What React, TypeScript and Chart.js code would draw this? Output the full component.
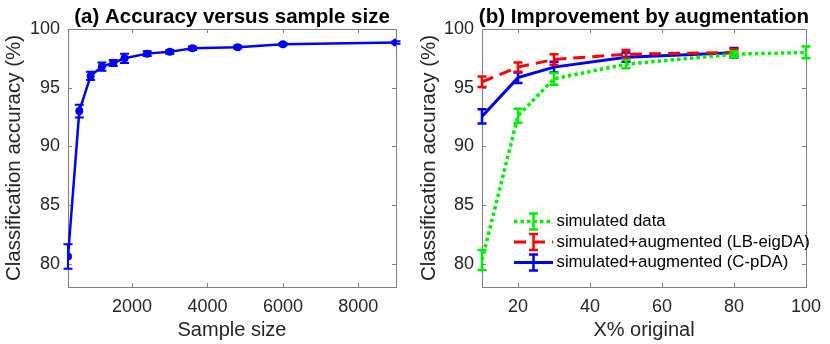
import { useEffect, useRef } from 'react';
import { Chart, registerables } from 'chart.js';

Chart.register(...registerables);

// ---------- Panel (a) data ----------
const sampleSizes = [300, 600, 900, 1200, 1500, 1800, 2400, 3000, 3600, 4800, 6000, 9000];
const accuracyA = [80.6, 93.0, 96.0, 96.8, 97.1, 97.5, 97.9, 98.05, 98.35, 98.45, 98.7, 98.85];
const errorA = [1.05, 0.55, 0.35, 0.35, 0.25, 0.4, 0.2, 0.15, 0.15, 0.12, 0.1, 0.1];
const xTicksA = [2000, 4000, 6000, 8000];

// ---------- Panel (b) data ----------
const pctSimulated = [10, 20, 30, 50, 80, 100];
const accSimulated = [80.3, 92.6, 95.75, 97.0, 97.85, 98.0];
const errSimulated = [0.85, 0.6, 0.5, 0.35, 0.25, 0.5];
const pctAugmented = [10, 20, 30, 50, 80];
const accLB = [95.5, 96.75, 97.4, 97.85, 98.0];
const errLB = [0.45, 0.4, 0.45, 0.35, 0.3];
const accCP = [92.55, 95.85, 96.75, 97.6, 97.97];
const errCP = [0.6, 0.45, 0.45, 0.4, 0.4];
const xTicksB = [20, 40, 60, 80, 100];

const yTicks = [80, 85, 90, 95, 100];

const FONT = '"Liberation Sans", Arial, Helvetica, sans-serif';
const AXIS_GRAY = '#7f7f7f';
const TEXT_GRAY = '#262626';

const errorBarPlugin = {
  id: 'errorBars',
  afterDatasetDraw(chart: any, args: any) {
    const ds = chart.data.datasets[args.index];
    const errs: number[] | undefined = ds.errors;
    if (!errs) return;
    const xs = chart.scales.x;
    const ys = chart.scales.y;
    const ctx = chart.ctx;
    ctx.save();
    ctx.strokeStyle = ds.borderColor;
    ctx.lineWidth = ds.errorWidth || 2;
    ctx.setLineDash([]);
    const cap = ds.capHalf || 4.5;
    ds.data.forEach((p: any, i: number) => {
      const x = xs.getPixelForValue(p.x);
      const yt = ys.getPixelForValue(p.y + errs[i]);
      const yb = ys.getPixelForValue(p.y - errs[i]);
      ctx.beginPath();
      ctx.moveTo(x, yt);
      ctx.lineTo(x, yb);
      ctx.moveTo(x - cap, yt);
      ctx.lineTo(x + cap, yt);
      ctx.moveTo(x - cap, yb);
      ctx.lineTo(x + cap, yb);
      ctx.stroke();
    });
    ctx.restore();
  },
};

const boxPlugin = {
  id: 'matlabBox',
  beforeDatasetsDraw(chart: any) {
    const { ctx, chartArea: a } = chart;
    const o = chart.options.plugins.matlabBox || {};
    ctx.save();
    ctx.strokeStyle = AXIS_GRAY;
    ctx.lineWidth = 1;
    ctx.strokeRect(Math.round(a.left) + 0.5, Math.round(a.top) + 0.5, Math.round(a.right - a.left), Math.round(a.bottom - a.top));
    const tl = 4;
    ctx.beginPath();
    (o.xTicks || []).forEach((v: number) => {
      const x = Math.round(chart.scales.x.getPixelForValue(v)) + 0.5;
      ctx.moveTo(x, a.bottom);
      ctx.lineTo(x, a.bottom - tl);
      ctx.moveTo(x, a.top);
      ctx.lineTo(x, a.top + tl);
    });
    (o.yTicks || []).forEach((v: number) => {
      const y = Math.round(chart.scales.y.getPixelForValue(v)) + 0.5;
      ctx.moveTo(a.left, y);
      ctx.lineTo(a.left + tl, y);
      ctx.moveTo(a.right, y);
      ctx.lineTo(a.right - tl, y);
    });
    ctx.stroke();
    ctx.restore();
  },
  afterDraw(chart: any) {
    const { ctx, chartArea: a } = chart;
    const o = chart.options.plugins.matlabBox || {};
    if (o.title) {
      ctx.save();
      ctx.fillStyle = '#000';
      ctx.font = 'bold 20.5px ' + FONT;
      ctx.textAlign = 'center';
      ctx.textBaseline = 'alphabetic';
      ctx.fillText(o.title, (a.left + a.right) / 2, 23);
      ctx.restore();
    }
  },
};

const legendPlugin = {
  id: 'matlabLegend',
  afterDraw(chart: any) {
    const o = chart.options.plugins.matlabLegend;
    if (!o || !o.show) return;
    const ctx = chart.ctx;
    const x0 = 99;
    const x1 = 138;
    const xm = (x0 + x1) / 2;
    const textX = 141.5;
    const rows = [221.5, 242, 262.5];
    ctx.save();
    chart.data.datasets.forEach((ds: any, i: number) => {
      const y = rows[i];
      ctx.strokeStyle = ds.borderColor;
      ctx.lineWidth = ds.borderWidth;
      ctx.setLineDash(ds.borderDash || []);
      ctx.lineCap = 'butt';
      ctx.beginPath();
      ctx.moveTo(x0, y);
      ctx.lineTo(x1, y);
      ctx.stroke();
      ctx.setLineDash([]);
      ctx.lineWidth = ds.errorWidth || 2;
      ctx.beginPath();
      ctx.moveTo(xm, y - 8);
      ctx.lineTo(xm, y + 8);
      ctx.moveTo(xm - 4.5, y - 8);
      ctx.lineTo(xm + 4.5, y - 8);
      ctx.moveTo(xm - 4.5, y + 8);
      ctx.lineTo(xm + 4.5, y + 8);
      ctx.stroke();
      ctx.fillStyle = '#000';
      ctx.font = '16.8px ' + FONT;
      ctx.textAlign = 'left';
      ctx.textBaseline = 'middle';
      ctx.fillText(ds.label, textX, y);
    });
    ctx.restore();
  },
};

function scales(xMin: number, xMax: number, xTicks: number[], xTitle: string, yWidth: number) {
  return {
    x: {
      type: 'linear',
      min: xMin,
      max: xMax,
      afterBuildTicks: (s: any) => {
        s.ticks = xTicks.map((v) => ({ value: v }));
      },
      afterFit: (s: any) => {
        s.height = 57;
      },
      ticks: {
        font: { family: FONT, size: 18 },
        color: TEXT_GRAY,
        padding: 9,
        maxRotation: 0,
        autoSkip: false,
        callback: (v: any) => String(v),
      },
      grid: { display: false, drawTicks: false },
      border: { display: false },
      title: { display: true, text: xTitle, color: TEXT_GRAY, font: { family: FONT, size: 20 }, padding: { top: 0, bottom: 2 } },
    },
    y: {
      type: 'linear',
      min: 78,
      max: 100,
      afterBuildTicks: (s: any) => {
        s.ticks = yTicks.map((v) => ({ value: v }));
      },
      afterFit: (s: any) => {
        s.width = yWidth;
      },
      ticks: { font: { family: FONT, size: 18 }, color: TEXT_GRAY, padding: 8, callback: (v: any) => String(v) },
      grid: { display: false, drawTicks: false },
      border: { display: false },
      title: { display: true, text: 'Classification accuracy (%)', color: TEXT_GRAY, font: { family: FONT, size: 20.5 }, padding: { top: 2, bottom: 0 } },
    },
  };
}

function ChartA() {
  const ref = useRef<HTMLCanvasElement>(null);
  useEffect(() => {
    const chart = new Chart(ref.current as HTMLCanvasElement, {
      type: 'line',
      data: {
        datasets: [
          {
            label: 'accuracy',
            data: sampleSizes.map((x, i) => ({ x, y: accuracyA[i] })),
            borderColor: '#0000ff',
            backgroundColor: '#0000ff',
            borderWidth: 2.5,
            pointRadius: 4,
            pointBorderWidth: 0,
            tension: 0,
            errors: errorA,
            errorWidth: 2,
            capHalf: 4.5,
          } as any,
        ],
      },
      options: {
        animation: false,
        responsive: false,
        layout: { padding: { left: 0, right: 19, top: 29, bottom: 0 } },
        scales: scales(300, 9000, xTicksA, 'Sample size', 68) as any,
        plugins: {
          legend: { display: false },
          tooltip: { enabled: false },
          matlabBox: { xTicks: xTicksA, yTicks, title: '(a) Accuracy versus sample size' },
        } as any,
      },
      plugins: [errorBarPlugin, boxPlugin],
    });
    return () => chart.destroy();
  }, []);
  return <canvas ref={ref} width={415} height={344} style={{ position: 'absolute', left: 0, top: 0 }} />;
}

function ChartB() {
  const ref = useRef<HTMLCanvasElement>(null);
  useEffect(() => {
    const chart = new Chart(ref.current as HTMLCanvasElement, {
      type: 'line',
      data: {
        datasets: [
          {
            label: 'simulated data',
            data: pctSimulated.map((x, i) => ({ x, y: accSimulated[i] })),
            borderColor: '#00ee00',
            borderWidth: 3.5,
            borderDash: [3.5, 3],
            pointRadius: 0,
            tension: 0,
            errors: errSimulated,
            errorWidth: 2.5,
            capHalf: 4.5,
          } as any,
          {
            label: 'simulated+augmented (LB-eigDA)',
            data: pctAugmented.map((x, i) => ({ x, y: accLB[i] })),
            borderColor: '#ff0000',
            borderWidth: 3,
            borderDash: [12, 7],
            pointRadius: 0,
            tension: 0,
            errors: errLB,
            errorWidth: 2.5,
            capHalf: 4.5,
          } as any,
          {
            label: 'simulated+augmented (C-pDA)',
            data: pctAugmented.map((x, i) => ({ x, y: accCP[i] })),
            borderColor: '#0000ff',
            borderWidth: 3,
            pointRadius: 0,
            tension: 0,
            errors: errCP,
            errorWidth: 2.5,
            capHalf: 4.5,
          } as any,
        ],
      },
      options: {
        animation: false,
        responsive: false,
        layout: { padding: { left: 0, right: 20, top: 29, bottom: 0 } },
        scales: scales(10, 100, xTicksB, 'X% original', 67) as any,
        plugins: {
          legend: { display: false },
          tooltip: { enabled: false },
          matlabBox: { xTicks: xTicksB, yTicks, title: '(b) Improvement by augmentation' },
          matlabLegend: { show: true },
        } as any,
      },
      plugins: [errorBarPlugin, boxPlugin, legendPlugin],
    });
    return () => chart.destroy();
  }, []);
  return <canvas ref={ref} width={415} height={344} style={{ position: 'absolute', left: 415, top: 0 }} />;
}

export default function App() {
  return (
    <div style={{ position: 'fixed', left: 0, top: 0, width: 830, height: 344, background: '#fff' }}>
      <ChartA />
      <ChartB />
    </div>
  );
}
